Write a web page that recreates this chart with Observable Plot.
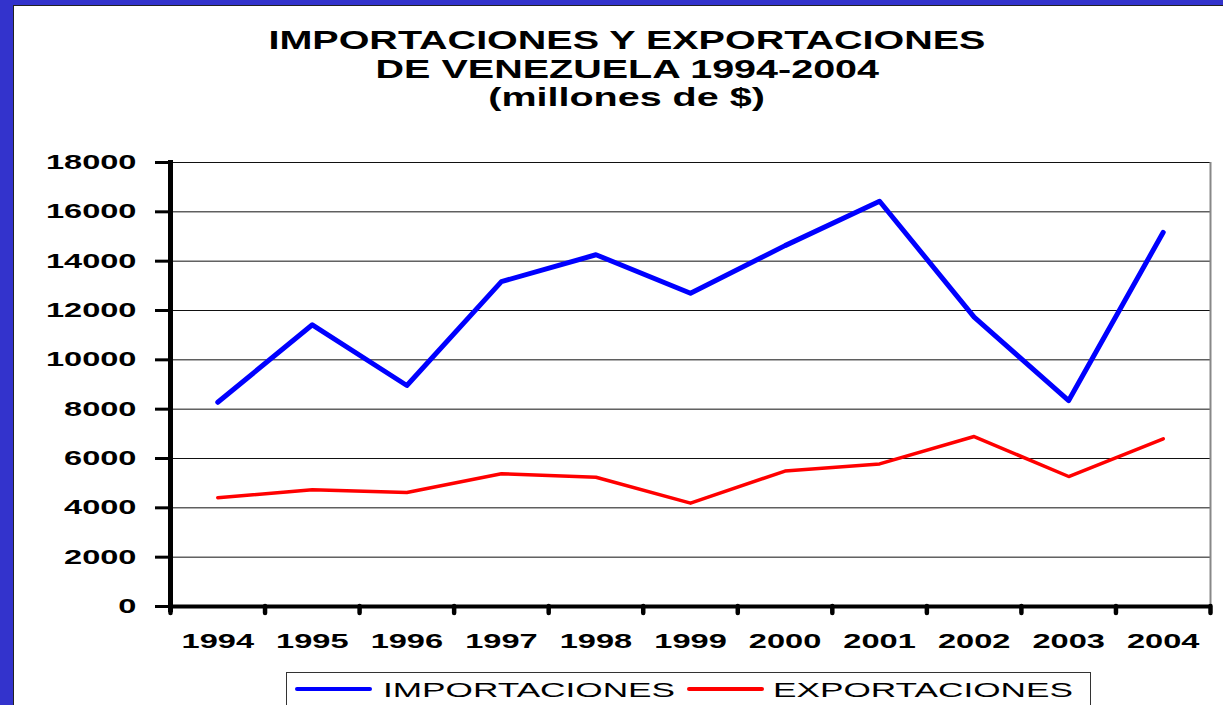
<!DOCTYPE html>
<html>
<head>
<meta charset="utf-8">
<script src="https://cdn.jsdelivr.net/npm/d3@7"></script>
<script src="https://cdn.jsdelivr.net/npm/@observablehq/plot@0.6"></script>
<style>
  html, body { margin: 0; padding: 0; background: #3333cc; }
  #page { position: relative; width: 1223px; height: 705px; overflow: hidden; background: #3333cc; font-family: "Liberation Sans", Arial, sans-serif; }
  #panel { position: absolute; left: 13px; top: 5px; right: 0; bottom: 0; background: #fff; border-left: 1px solid #222; border-top: 1px solid #222; }
  #chart { position: absolute; left: 0; top: 0; }
  #title { position: absolute; left: 0; top: 26px; width: 1254px; text-align: center; font-weight: bold; font-size: 25px; line-height: 28.5px; color: #000; }
  #title .ln span { display: inline-block; transform: scaleX(1.58); transform-origin: center; white-space: nowrap; }
  #legend { position: absolute; left: 286px; top: 672px; width: 803px; height: 44px; border: 1px solid #333; background: #fff; }
  #legend .sw { position: absolute; height: 4px; border-radius: 2px; top: 14px; width: 77px; }
  #legend .lb { position: absolute; top: 7px; font-size: 20px; line-height: 20px; white-space: nowrap; transform: scaleX(1.76); transform-origin: left center; color: #000; }
</style>
</head>
<body>
<div id="page">
  <div id="panel"></div>
  <div id="chart"></div>
  <div id="title"></div>
  <div id="legend"></div>
</div>
<script>
const years = [1994, 1995, 1996, 1997, 1998, 1999, 2000, 2001, 2002, 2003, 2004];
const importaciones = [8280, 11420, 8960, 13170, 14260, 12700, 14630, 16430, 11730, 8350, 15170];
const exportaciones = [4410, 4730, 4620, 5380, 5240, 4190, 5490, 5780, 6890, 5270, 6800];
const yTicks = [0, 2000, 4000, 6000, 8000, 10000, 12000, 14000, 16000, 18000];
const titleLines = ["IMPORTACIONES Y EXPORTACIONES", "DE VENEZUELA 1994-2004", "(millones de $)"];
const seriesNames = ["IMPORTACIONES", "EXPORTACIONES"];
const seriesColors = ["#0000ff", "#ff0000"];
const seriesWidths = [5, 3.5];

const boundaries = years.map(y => y - 0.5).concat([years[years.length - 1] + 0.5]);
const series = [importaciones, exportaciones];
const x0 = boundaries[0];

const chart = Plot.plot({
  width: 1223,
  height: 665,
  marginLeft: 170,
  marginRight: 13,
  marginTop: 162,
  marginBottom: 59,
  style: { background: "transparent", fontFamily: "'Liberation Sans', Arial, sans-serif", color: "#000", overflow: "visible" },
  x: { type: "linear", domain: [boundaries[0], boundaries[boundaries.length - 1]], axis: null },
  y: { domain: [yTicks[0], yTicks[yTicks.length - 1]], axis: null },
  marks: [
    Plot.gridY(yTicks.filter(v => v > 0), { stroke: "#111", strokeOpacity: 1, strokeWidth: 1 }),
    Plot.ruleX([boundaries[boundaries.length - 1]], { stroke: "#888", strokeWidth: 2 }),
    ...series.map((vals, k) => Plot.line(vals, {
      x: (d, i) => years[i], y: d => d,
      stroke: seriesColors[k], strokeWidth: seriesWidths[k],
      strokeLinejoin: "round", strokeLinecap: "round"
    })),
    // y tick marks (outward)
    Plot.ruleY(yTicks, { x1: x0, x2: x0, insetLeft: -15, stroke: "#000", strokeWidth: 3 }),
    // x tick marks at category boundaries
    Plot.ruleX(boundaries, { y1: 0, y2: 0, insetBottom: -7, stroke: "#000", strokeWidth: 4.5, strokeLinecap: "round" }),
    // axis lines
    Plot.ruleX([x0], { stroke: "#000", strokeWidth: 5, insetTop: -2, insetBottom: -6 }),
    Plot.ruleY([0], { stroke: "#000", strokeWidth: 4, insetRight: -2 }),
    Plot.axisY(yTicks, { anchor: "left", tickSize: 0, tickPadding: 34, fontSize: 20, fontWeight: "bold", label: null, tickFormat: d => String(d) }),
    Plot.axisX(years, { anchor: "bottom", tickSize: 0, tickPadding: 27, fontSize: 20, fontWeight: "bold", label: null, tickFormat: d => String(d) })
  ]
});

d3.select(chart)
  .selectAll('g[aria-label="y-axis tick label"] text, g[aria-label="x-axis tick label"] text')
  .each(function () {
    const t = this.getAttribute("transform") || "";
    this.setAttribute("transform", t + " scale(1.63,1)");
  });

document.getElementById("chart").appendChild(chart);

const title = d3.select("#title");
titleLines.forEach(l => title.append("div").attr("class", "ln").append("span").text(l));

const legend = d3.select("#legend");
const swLeft = [8, 400];
const lbLeft = [96, 486];
seriesNames.forEach((name, k) => {
  legend.append("div").attr("class", "sw").style("left", swLeft[k] + "px").style("background", seriesColors[k]);
  legend.append("div").attr("class", "lb").style("left", lbLeft[k] + "px").text(name);
});
</script>
</body>
</html>
